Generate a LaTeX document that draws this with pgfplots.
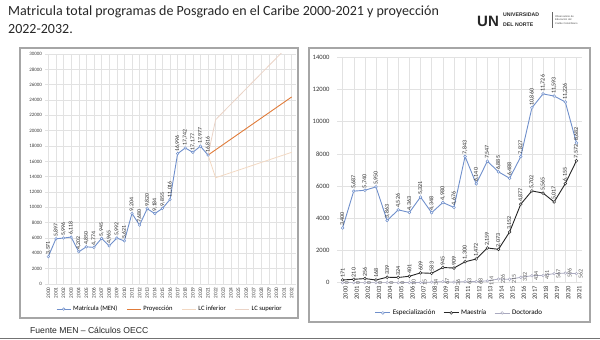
\documentclass[border=0pt]{standalone}
\usepackage{pgfplots}
\pgfplotsset{compat=1.18}
\usepackage{fontspec}
\setmainfont{Carlito}
\newfontfamily\arialfont{Liberation Sans}
\definecolor{mblue}{HTML}{6F8FCB}
\definecolor{projc}{HTML}{E07B39}
\definecolor{lcinf}{HTML}{F2D8C2}
\definecolor{lcsup}{HTML}{EAD3C6}
\definecolor{docc}{HTML}{A9A9BF}
\definecolor{maec}{HTML}{262626}
\definecolor{gridc}{HTML}{E2E2E2}
\definecolor{framec}{HTML}{A6A6A6}
\pgfplotsset{
  mylbl/.style={nodes near coords={\pgfmathprintnumber[fixed,precision=0,1000 sep={,}]{\pgfplotspointmeta}},
    point meta=y,
    every node near coord/.append style={rotate=90, anchor=west, inner sep=2pt, text=black!80, font=#1}},
  shortleg/.style={legend image code/.code={\draw[mark repeat=2,mark phase=2,##1] plot coordinates {(0pt,0pt) (#1/2,0pt) (#1,0pt)};}},
}
\begin{document}
\begin{tikzpicture}[x=1pt,y=1pt]
\path[use as bounding box] (0,0) rectangle (600,340);
% title
\node[anchor=north west, inner sep=0, align=left, font=\fontsize{14}{18}\selectfont, text=black!85] at (8,334.5)
  {Matricula total programas de Posgrado en el Caribe 2000-2021 y proyección\\2022-2032.};
% logo
\node[anchor=center, inner sep=0, font=\arialfont\fontsize{15}{15}\selectfont\bfseries, text=black!85] at (488,319) {UN};
\node[anchor=base west, inner sep=0, font=\arialfont\fontsize{5.2}{5.2}\selectfont\bfseries, text=black!85] at (503,323) {UNIVERSIDAD};
\node[anchor=base west, inner sep=0, font=\arialfont\fontsize{5.2}{5.2}\selectfont\bfseries, text=black!85] at (503,313) {DEL NORTE};
\draw[black!60, line width=0.4pt] (552,312) -- (552,328);
\node[anchor=west, inner sep=0, align=left, font=\arialfont\fontsize{2.6}{3.4}\selectfont, text=black!70] at (555,320) {Observatorio de\\Educación del\\Caribe Colombiano};
% frames
\draw[framec, line width=1.1pt] (20,22) rectangle (298,292);
\draw[framec, line width=1.1pt] (309,18) rectangle (590,292);
\draw[black!55, line width=0.8pt] (0,1.5) -- (600,1.5);
\node[anchor=west, inner sep=0, font=\arialfont\fontsize{8.6}{9}\selectfont, text=black!85] at (30,9.5) {Fuente MEN – Cálculos OECC};

% left chart
\begin{axis}[at={(44.5pt,56pt)}, anchor=south west, scale only axis, width=251pt, height=230pt,
  xmin=1999.5, xmax=2032.5, ymin=0, ymax=30000,
  xtick={2000,...,2032}, ytick={0,2000,...,30000},
  scaled y ticks=false,
  /pgf/number format/assume math mode=true,
  /pgf/number format/1000 sep={},
  xticklabel style={rotate=90, anchor=east, font=\fontsize{5.3}{5.3}\selectfont, text=black!75, yshift=0pt},
  yticklabel style={font=\fontsize{5}{5}\selectfont, text=black!75, xshift=1pt},
  grid=major, grid style={draw=gridc, line width=0.4pt},
  axis line style={draw=none}, major tick length=0pt,
  legend columns=4, shortleg=14pt,
  legend style={draw=none, fill=none, at={(0.5,-0.109)}, anchor=center, font=\fontsize{6.6}{7}\selectfont,
    /tikz/every even column/.append style={column sep=7pt}},
]
\addplot[mblue, line width=0.9pt, mark=*, mark size=1.3pt, mark options={fill=white, draw=mblue, line width=0.5pt},
  mylbl={\fontsize{5.8}{5.8}\selectfont}] coordinates {
(2000,3571)(2001,5897)(2002,5996)(2003,6118)(2004,4202)(2005,4850)(2006,4774)(2007,5945)
(2008,4965)(2009,5992)(2010,5621)(2011,9204)(2012,7680)(2013,9820)(2014,9184)(2015,9855)
(2016,11016)(2017,16996)(2018,17742)(2019,17177)(2020,17977)(2021,16816)};
\addlegendentry{Matrícula (MEN)}
\addplot[projc, line width=0.9pt, no marks] coordinates {(2021,16816)(2032,24400)};
\addlegendentry{Proyección}
\addplot[lcinf, line width=0.8pt, no marks] coordinates {(2021,16816)(2022,13857)(2032,17180)};
\addlegendentry{LC inferior}
\addplot[lcsup, line width=0.8pt, no marks] coordinates {(2021,16816)(2022,21430)(2032,31500)};
\addlegendentry{LC superior}
\end{axis}

% right chart
\begin{axis}[at={(337pt,57.3pt)}, anchor=south west, scale only axis, width=245pt, height=225.4pt,
  xmin=1999.5, xmax=2021.5, ymin=0, ymax=14000,
  xtick={2000,...,2021}, ytick={0,2000,...,14000},
  scaled y ticks=false,
  /pgf/number format/assume math mode=true,
  /pgf/number format/1000 sep={},
  xticklabel style={rotate=90, anchor=east, font=\fontsize{6.5}{6.5}\selectfont, text=black!80, yshift=-3pt},
  yticklabel style={font=\fontsize{6.6}{6.6}\selectfont, text=black!80, xshift=-4pt},
  grid=major, grid style={draw=gridc, line width=0.4pt},
  axis line style={draw=none}, major tick length=0pt,
  legend columns=3, shortleg=15pt,
  legend style={draw=none, fill=none, at={(0.5,-0.134)}, anchor=center, font=\fontsize{7}{7}\selectfont,
    /tikz/every even column/.append style={column sep=6pt}},
]
\addplot[mblue, line width=0.9pt, mark=*, mark size=1.4pt, mark options={fill=white, draw=mblue, line width=0.5pt},
  mylbl={\fontsize{6}{6}\selectfont}] coordinates {
(2000,3400)(2001,5687)(2002,5740)(2003,5950)(2004,3863)(2005,4526)(2006,4363)(2007,5321)
(2008,4348)(2009,4980)(2010,4676)(2011,7843)(2012,6140)(2013,7547)(2014,6885)(2015,6488)
(2016,7827)(2017,10860)(2018,11726)(2019,11593)(2020,11226)(2021,8682)};
\addlegendentry{Especialización}
\addplot[maec, line width=0.9pt, mark=*, mark size=1.4pt, mark options={fill=white, draw=maec, line width=0.5pt},
  mylbl={\fontsize{6}{6}\selectfont}] coordinates {
(2000,171)(2001,210)(2002,256)(2003,168)(2004,339)(2005,324)(2006,401)(2007,609)
(2008,583)(2009,945)(2010,909)(2011,1300)(2012,1472)(2013,2159)(2014,2073)(2015,3152)
(2016,4877)(2017,5702)(2018,5565)(2019,5017)(2020,6155)(2021,7572)};
\addlegendentry{Maestría}
\addplot[docc, line width=0.8pt, mark=*, mark size=1.3pt, mark options={fill=white, draw=docc, line width=0.5pt},
  mylbl={\fontsize{6}{6}\selectfont}, every node near coord/.append style={anchor=north, text=black!65}] coordinates {
(2000,0)(2001,0)(2002,0)(2003,0)(2004,0)(2005,0)(2006,10)(2007,15)
(2008,34)(2009,67)(2010,36)(2011,63)(2012,68)(2013,114)(2014,226)(2015,215)
(2016,332)(2017,434)(2018,451)(2019,567)(2020,596)(2021,562)};
\addlegendentry{Doctorado}
\end{axis}
\end{tikzpicture}
\end{document}
